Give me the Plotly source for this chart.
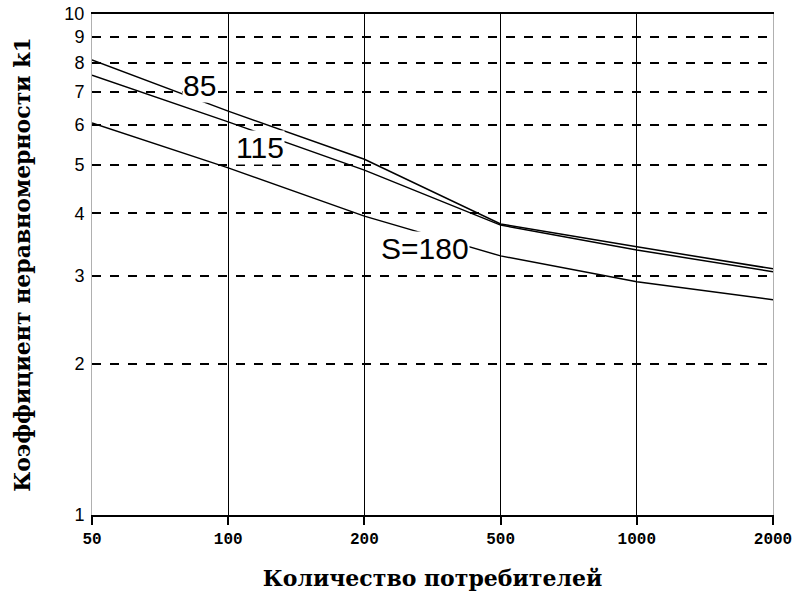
import plotly.graph_objects as go

# Data
consumers = ["50", "100", "200", "500", "1000", "2000"]
k1_85 = [8.1, 6.4, 5.13, 3.81, 3.43, 3.10]
k1_115 = [7.55, 6.09, 4.88, 3.79, 3.38, 3.06]
k1_180 = [6.06, 4.93, 3.95, 3.29, 2.92, 2.69]
y_ticks = [1, 2, 3, 4, 5, 6, 7, 8, 9, 10]
grid_x = ["100", "200", "500", "1000"]
grid_y = [2, 3, 4, 5, 6, 7, 8, 9]

fig = go.Figure()
for vals in (k1_85, k1_115, k1_180):
    fig.add_trace(go.Scatter(x=consumers, y=vals, mode="lines",
                             line=dict(color="black", width=1.5),
                             showlegend=False, hoverinfo="skip"))

# invisible trace to activate secondary axes for grids
fig.add_trace(go.Scatter(x=consumers, y=k1_85, xaxis="x2", yaxis="y2",
                         mode="lines", line=dict(width=0), opacity=0,
                         showlegend=False, hoverinfo="skip"))

label_font = dict(family="Liberation Sans, Arial", size=30, color="black")
labels = [("85", 0.79, 0.858), ("115", 1.23, 0.733), ("S=180", 2.445, 0.531)]
for txt, xi, yl in labels:
    fig.add_annotation(x=xi, y=yl, xref="x", yref="y", text=txt, showarrow=False,
                       font=label_font, bgcolor="white", borderpad=0)

title_font = dict(family="DejaVu Serif", size=22, color="black", weight="bold")

fig.update_layout(
    width=800, height=602,
    margin=dict(l=92, r=27, t=14, b=87, autoexpand=False),
    paper_bgcolor="white", plot_bgcolor="white",
    xaxis=dict(type="category", categoryorder="array", categoryarray=consumers,
               range=[0, 5], showgrid=False, showline=True, mirror=True, automargin=False,
               linecolor="black", linewidth=1.5, ticks="outside", ticklen=8,
               tickcolor="black", tickwidth=1.5,
               tickfont=dict(family="Liberation Mono, Courier New", size=16, color="black", weight="bold"),
               title=dict(text="Количество потребителей", standoff=23, font=title_font),
               zeroline=False),
    yaxis=dict(type="log", range=[0, 1], tickvals=y_ticks, ticktext=[str(v) for v in y_ticks],
               showgrid=False, showline=True, mirror=True, linecolor="#b0b0b0", linewidth=1,
               ticks="", ticklabelstandoff=3, automargin=False,
               tickfont=dict(family="Liberation Sans, Arial", size=18, color="black"),
               title=dict(text="Коэффициент неравномерности k1", standoff=27, font=title_font),
               zeroline=False),
    xaxis2=dict(type="category", categoryorder="array", categoryarray=consumers,
                range=[0, 5], overlaying="x", showgrid=True, gridcolor="black", gridwidth=1.3,
                tickvals=grid_x, showticklabels=False, ticks="", showline=False, zeroline=False,
                automargin=False),
    yaxis2=dict(type="log", range=[0, 1], overlaying="y", showgrid=True, gridcolor="black",
                gridwidth=1.6, griddash="dash", tickvals=grid_y, showticklabels=False,
                ticks="", showline=False, zeroline=False, automargin=False),
)

fig.write_html("out.html", config={"displayModeBar": False},
               post_script="document.body.style.margin='0';")
